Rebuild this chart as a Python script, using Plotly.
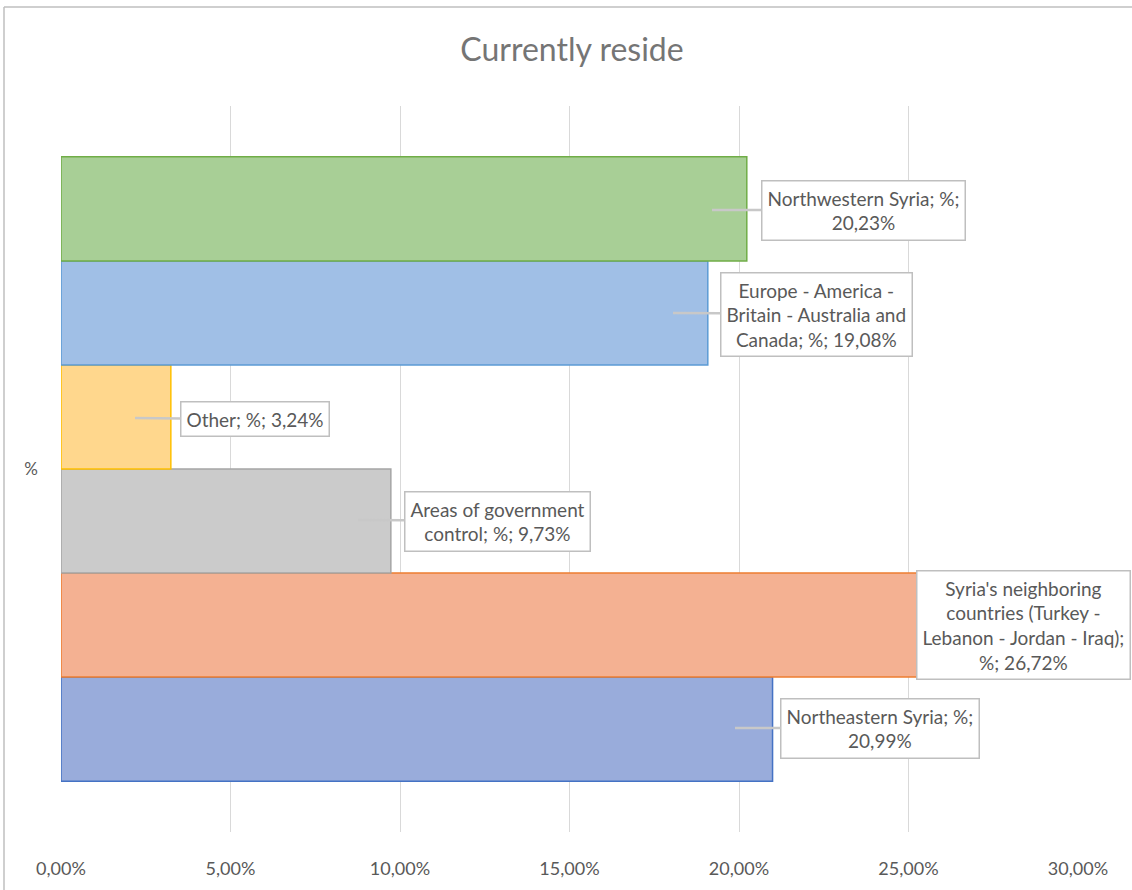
import textwrap
import plotly.graph_objects as go

# data (bottom bar first, like Excel)
category = ["%"]
series_names = [
    "Northeastern Syria",
    "Syria's neighboring countries (Turkey - Lebanon - Jordan - Iraq)",
    "Areas of government control",
    "Other",
    "Europe - America - Britain - Australia and Canada",
    "Northwestern Syria",
]
series_values = [20.99, 26.72, 9.73, 3.24, 19.08, 20.23]
x_ticks = [0, 0.05, 0.10, 0.15, 0.20, 0.25, 0.30]

fills = ["#99acdb", "#f4b192", "#cbcbcb", "#ffd78d", "#a0bfe6", "#a8cf96"]
borders = ["#4472c4", "#ed7d31", "#a5a5a5", "#ffc000", "#5b9bd5", "#70ad47"]

# callout placement in screen pixels: (tip x, tip y, box centre x, box centre y)
callouts = [
    (735, 728, 880, 728),
    (None, None, 1023, 625),
    (358, 520, 497, 521),
    (135, 418, 255, 419),
    (673, 313, 816, 314),
    (712, 210, 863, 210),
]

W, H = 1132, 890
# plot area on screen: x 61..1078, y 106..832
L, T = 61, 106
R = W - 1078
B = H - 832
XMAX = 0.30
FONT = "Lato, Open Sans, sans-serif"


def px_to_x(px):
    return (px - L) / (W - L - R) * XMAX


def py_to_paper(py):
    return (H - B - py) / (H - T - B)


fig = go.Figure()
for name, val, fc, bc in zip(series_names, series_values, fills, borders):
    fig.add_trace(go.Bar(
        y=category, x=[val / 100], name=name, orientation="h",
        marker=dict(color=fc, line=dict(color=bc, width=1.5)),
    ))

for name, val, (tx, ty, bx, by) in zip(series_names, series_values, callouts):
    label = f"{name}; %; {val:.2f}%".replace(".", ",")
    text = "<br>".join(textwrap.wrap(label, 25))
    ann = dict(
        text=text, xref="x", yref="paper", align="center",
        font=dict(family=FONT, size=19, color="#595959"),
        bgcolor="white", bordercolor="#bfbfbf", borderwidth=1.5, borderpad=5,
    )
    if tx is None:
        ann.update(x=px_to_x(bx), y=py_to_paper(by), showarrow=False,
                   xanchor="center", yanchor="middle")
    else:
        ann.update(x=px_to_x(tx), y=py_to_paper(ty), showarrow=True,
                   ax=bx - tx, ay=by - ty, arrowhead=0, arrowwidth=2.5,
                   arrowcolor="#c8c8c8", standoff=0)
    fig.add_annotation(**ann)

# chart frame (top and left edges visible)
fx = px_to_x(4) / XMAX
fy = py_to_paper(7)
fig.add_shape(type="line", xref="paper", yref="paper",
              x0=fx, x1=1.1, y0=fy, y1=fy,
              line=dict(color="#bfbfbf", width=1.5))
fig.add_shape(type="line", xref="paper", yref="paper",
              x0=fx, x1=fx, y0=fy, y1=-0.2,
              line=dict(color="#bfbfbf", width=1.5))

fig.update_layout(
    width=W, height=H,
    margin=dict(l=L, r=R, t=T, b=B),
    paper_bgcolor="white", plot_bgcolor="white",
    barmode="group", bargap=0.14, bargroupgap=0,
    showlegend=False,
    separators=", ",
    title=dict(text="Currently reside", x=572 / W, xanchor="center",
               y=1 - 50 / H, yanchor="middle",
               font=dict(family=FONT, size=32, color="#757575")),
    font=dict(family=FONT, color="#595959"),
)
fig.update_xaxes(range=[0, XMAX], tickvals=x_ticks, tickformat=".2%",
                 showgrid=True, gridcolor="#d9d9d9", gridwidth=1.2,
                 zeroline=False, showline=False, ticks="",
                 ticklabelstandoff=24,
                 tickfont=dict(family=FONT, size=18, color="#595959"))
fig.update_yaxes(range=[-0.5, 0.5], showgrid=False, zeroline=False,
                 showline=False, ticks="", ticklabelstandoff=22,
                 tickfont=dict(family=FONT, size=17, color="#595959"))

fig.write_html("out.html", config={"displayModeBar": False},
               post_script="document.body.style.margin='0';document.body.style.overflow='hidden';")
